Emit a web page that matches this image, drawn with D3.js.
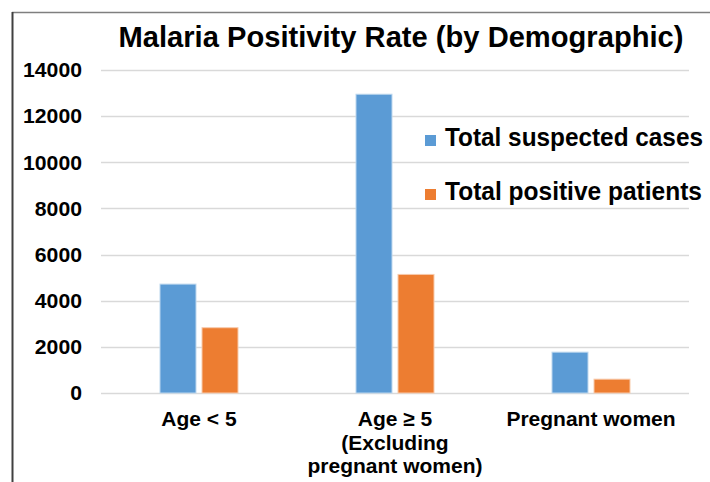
<!DOCTYPE html>
<html><head><meta charset="utf-8">
<script src="https://cdn.jsdelivr.net/npm/d3@7"></script>
<style>body{margin:0;background:#fff}svg{display:block}</style>
</head><body>
<svg id="chart" width="710" height="482"></svg>
<script>
const title = "Malaria Positivity Rate (by Demographic)";
const categories = ["Age < 5", "Age ≥ 5\n(Excluding\npregnant women)", "Pregnant women"];
const seriesNames = ["Total suspected cases", "Total positive patients"];
const suspected = [4720, 12950, 1770];
const positive = [2830, 5140, 600];
const yTicks = [0, 2000, 4000, 6000, 8000, 10000, 12000, 14000];
const colors = ["#5B9BD5", "#ED7D31"];

const svg = d3.select("#chart");
const W = 710, H = 482;
const m = {left: 101, right: 21, top: 70, bottom: 89};
const plotW = W - m.left - m.right, plotH = H - m.top - m.bottom;
const font = "'Liberation Sans', Arial, sans-serif";

svg.append("rect").attr("width", W).attr("height", H).attr("fill", "#fff");
// frame
svg.append("line").attr("x1", 12).attr("x2", W + 5).attr("y1", 12.5).attr("y2", 12.5)
  .attr("stroke", "#7f7f7f").attr("stroke-width", 1.5);
svg.append("line").attr("x1", 12.5).attr("x2", 12.5).attr("y1", 12).attr("y2", H + 5)
  .attr("stroke", "#404040").attr("stroke-width", 2);

const g = svg.append("g").attr("transform", `translate(${m.left},${m.top})`);

const x0 = d3.scaleBand().domain(categories).range([0, plotW]).paddingInner(0.602).paddingOuter(0.301);
const x1 = d3.scaleBand().domain(seriesNames).range([0, x0.bandwidth()]).paddingInner(0.143);
const y = d3.scaleLinear().domain([0, 14000]).range([plotH, 0]);

// gridlines
g.append("g").selectAll("line").data(yTicks).join("line")
  .attr("x1", 0).attr("x2", plotW)
  .attr("y1", d => Math.round(y(d)) + 0.5).attr("y2", d => Math.round(y(d)) + 0.5)
  .attr("stroke", "#d9d9d9").attr("stroke-width", 1.5);

// y axis
const yAxis = g.append("g").attr("transform", "translate(-19,0)")
  .call(d3.axisLeft(y).tickValues(yTicks).tickSize(0).tickPadding(0).tickFormat(d3.format("d")));
yAxis.select(".domain").remove();
yAxis.selectAll("text").attr("font-family", font).attr("font-size", 21).attr("font-weight", "bold").attr("fill", "#000")
  .attr("textLength", d => String(d).length * 11.8).attr("lengthAdjust", "spacingAndGlyphs");

// bars
const data = categories.map((c, i) => ({cat: c, vals: [suspected[i], positive[i]]}));
const groups = g.append("g").selectAll("g").data(data).join("g")
  .attr("transform", d => `translate(${x0(d.cat)},0)`);
groups.selectAll("rect").data(d => d.vals.map((v, j) => ({name: seriesNames[j], v, j}))).join("rect")
  .attr("x", d => x1(d.name)).attr("width", x1.bandwidth())
  .attr("y", d => y(d.v)).attr("height", d => y(0) - y(d.v))
  .attr("fill", d => colors[d.j])
  .attr("stroke", d => d.j === 0 ? "#bdd7ee" : "#f8cbad").attr("stroke-width", 1);

// x labels (one text per line)
const xl = g.append("g").attr("transform", `translate(0,${plotH})`);
categories.forEach(c => {
  c.split("\n").forEach((ln, i) => {
    xl.append("text").attr("x", x0(c) + x0.bandwidth() / 2).attr("y", 33 + i * 23.5)
      .attr("text-anchor", "middle").attr("font-family", font).attr("font-size", 21)
      .attr("font-weight", "bold").attr("fill", "#000").text(ln);
  });
});

// title
svg.append("text").attr("x", 401).attr("y", 47).attr("text-anchor", "middle")
  .attr("font-family", font).attr("font-size", 30).attr("font-weight", "bold").attr("fill", "#000")
  .attr("textLength", 565).attr("lengthAdjust", "spacingAndGlyphs").text(title);

// legend
const leg = svg.append("g");
seriesNames.forEach((s, i) => {
  const yy = 146 + i * 54;
  leg.append("rect").attr("x", 425).attr("y", yy - 11).attr("width", 11).attr("height", 11).attr("fill", colors[i]);
  leg.append("text").attr("x", 445).attr("y", yy).attr("font-family", font).attr("font-size", 25)
    .attr("font-weight", "bold").attr("fill", "#000")
    .attr("textLength", i === 0 ? 258 : 257).attr("lengthAdjust", "spacingAndGlyphs").text(s);
});
</script>
</body></html>
